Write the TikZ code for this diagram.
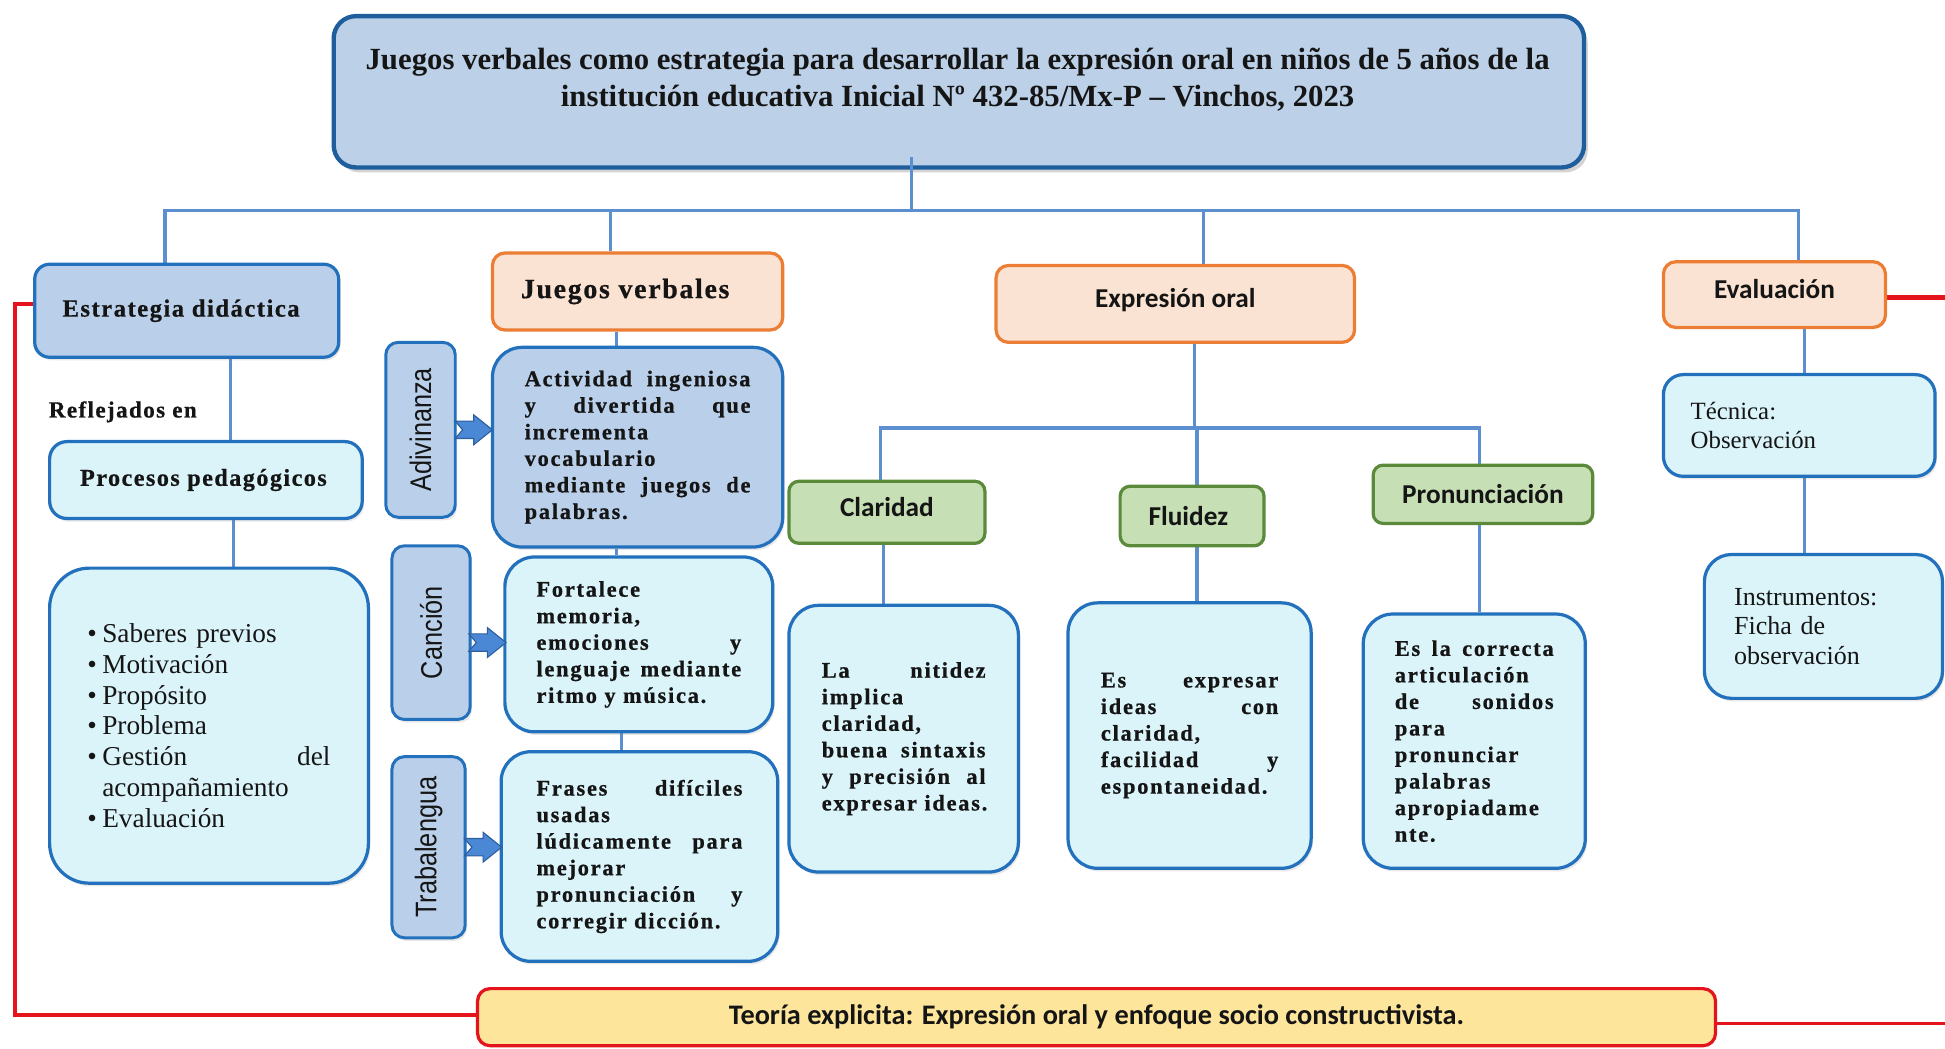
\documentclass[tikz,border=0pt]{standalone}
\usepackage{fontspec}
\usepackage{graphicx}
\setmainfont{Liberation Serif}
\newfontfamily\spacedf[LetterSpace=8, BoldFeatures={FakeBold=0.8}]{Liberation Serif}
\newfontfamily\hdrf[LetterSpace=6, BoldFeatures={FakeBold=0.6}]{Liberation Serif}
\newfontfamily\calf{Carlito}
\newfontfamily\arialf{Liberation Sans}
\usetikzlibrary{shadows,calc}
\definecolor{lineblue}{HTML}{5B8FD0}
\definecolor{bdblue}{HTML}{2370BD}
\definecolor{titleblue}{HTML}{1F5E9C}
\definecolor{titlefill}{HTML}{BCD0E8}
\definecolor{midfill}{HTML}{BAD0EA}
\definecolor{cyanfill}{HTML}{DAF4FA}
\definecolor{orbd}{HTML}{EB7D35}
\definecolor{orfill}{HTML}{FBE3D3}
\definecolor{grbd}{HTML}{5A8A3A}
\definecolor{grfill}{HTML}{C6DFB4}
\definecolor{yelfill}{HTML}{FDE59B}
\definecolor{redl}{HTML}{E3141B}
\definecolor{arrfill}{HTML}{4A88D6}
\definecolor{arrdraw}{HTML}{2D5E9E}
\definecolor{txt}{HTML}{151515}
\newcommand{\fsz}[2]{\fontsize{#1}{#2}\selectfont}
\newcommand{\jl}[1]{{\spaceskip=0pt\xspaceskip=0pt\makebox[\hsize][s]{#1}}}
\newcommand{\jw}[2]{{\spaceskip=0pt\xspaceskip=0pt\makebox[#1][s]{#2}}}
\newcommand{\blockarrow}[1]{\draw[blockarr, shift={(#1)}] (-15,-7) -- (0,-7) -- (0,-12) -- (15,0) -- (0,12) -- (0,7) -- (-15,7) -- (-9,0) -- cycle;}
\pgfdeclarelayer{bg}
\pgfsetlayers{bg,main}
\tikzset{
  conn/.style={draw=lineblue, line width=2.6pt},
  redline/.style={draw=redl, line width=3pt},
  bx/.style={rectangle, inner sep=0pt, text=txt},
  sz/.style 2 args={minimum width=#1pt, minimum height=#2pt},
  softsh/.style={drop shadow={opacity=0.18, shadow xshift=1.5pt, shadow yshift=-2.5pt}},
  bluebox/.style={bx, draw=bdblue, fill=midfill, line width=2.6pt, rounded corners=12pt, softsh},
  cyanbox/.style={bx, draw=bdblue, fill=cyanfill, line width=2.6pt, rounded corners=24pt, softsh},
  orbox/.style={bx, draw=orbd, fill=orfill, line width=2.6pt, rounded corners=10pt},
  grbox/.style={bx, draw=grbd, fill=grfill, line width=2.6pt, rounded corners=8pt},
  vbx/.style={bx, draw=bdblue, fill=midfill, line width=2.4pt, rounded corners=10pt, softsh},
  blockarr/.style={fill=arrfill, draw=arrdraw, line width=0.9pt, line join=miter},
  bodytxt/.style={font=\spacedf\bfseries\fsz{18}{21.4}, align=left},
  sanslbl/.style={font=\calf\bfseries\fsz{22}{26}},
  lift/.style={text height=16pt, text depth=10pt},
  rot/.style={rotate=90, text=txt, inner sep=0pt, font=\arialf\fsz{24}{28}},
}
\begin{document}
\begin{tikzpicture}[x=1pt, y=-1pt]
\useasboundingbox (0,0) rectangle (1568,845);
% title
\node[bx, draw=titleblue, fill=titlefill, line width=3.5pt, rounded corners=18pt, sz={1008}{122},
      drop shadow={opacity=0.35, shadow xshift=3pt, shadow yshift=-4pt}] (title) at (773,74) {};
\node[text=txt, inner sep=0pt, align=center, font=\bfseries\fsz{24.8}{30}] (titlet) at (772,64)
  {Juegos verbales como estrategia para desarrollar la expresión oral en niños de 5 años de la\\
   institución educativa Inicial Nº 432-85/Mx-P – Vinchos, 2023};
% left column
\node[bluebox, sz={245}{75}, font=\hdrf\bfseries\fsz{19.9}{22}] (estr) at (150.5,250.5) {\hspace*{-9pt}Estrategia didáctica};
\node[text=txt, inner sep=0pt, font=\hdrf\bfseries\fsz{18.6}{20}] (refl) at (99,332) {Reflejados en};
\node[cyanbox, rounded corners=14pt, sz={252}{62}, font=\hdrf\bfseries\fsz{19.5}{22}] (proc) at (166,387) {\hspace*{-4pt}Procesos pedagógicos};
\node[cyanbox, rounded corners=32pt, sz={257}{254}, text width=196pt, align=left, font=\fsz{22}{24.8}] (list) at (168.5,585)
  {\makebox[12pt][l]{\textbullet}Saberes previos\\
   \makebox[12pt][l]{\textbullet}Motivación\\
   \makebox[12pt][l]{\textbullet}Propósito\\
   \makebox[12pt][l]{\textbullet}Problema\\
   \makebox[12pt][l]{\textbullet}\jw{184pt}{Gestión del}\\
   \hspace*{12pt}acompañamiento\\
   \makebox[12pt][l]{\textbullet}Evaluación};
% juegos verbales column
\node[orbox, sz={234}{62}, font=\hdrf\bfseries\fsz{22.5}{24}] (jv) at (514,235) {\hspace*{-20pt}Juegos verbales};
\node[vbx, sz={56}{141}] (adiv) at (339,346.5) {};
\node[rot] (adivt) at (adiv) {\scalebox{0.85}[1]{Adivinanza}};
\node[bluebox, rounded corners=24pt, sz={234}{161}, bodytxt, text width=182pt] (act) at (514,360.5)
  {\jl{Actividad ingeniosa}\\ \jl{y divertida que}\\ incrementa\\ vocabulario\\ \jl{mediante juegos de}\\ palabras.};
\node[vbx, sz={63}{140}] (canc) at (347.5,510) {};
\node[rot] (canct) at (canc) {\scalebox{0.85}[1]{Canción}};
\node[cyanbox, sz={216}{141}, bodytxt, text width=165pt] (fort) at (515,519.5)
  {Fortalece\\ memoria,\\ \jl{emociones y}\\ \jl{lenguaje mediante}\\ ritmo y música.};
\node[vbx, sz={59}{146}] (trab) at (345.5,683) {};
\node[rot] (trabt) at (trab) {\scalebox{0.85}[1]{Trabalengua}};
\node[cyanbox, sz={223}{169}, bodytxt, text width=166pt] (fras) at (515.5,690.5)
  {\jl{Frases difíciles}\\ usadas\\ \jl{lúdicamente para}\\ mejorar\\ \jl{pronunciación y}\\ corregir dicción.};
\coordinate (a1) at ($(adiv.east)!0.5!(act.west |- adiv.east)$);
\coordinate (a2) at ($(canc.east)!0.5!(fort.west |- canc.east)+(0,8)$);
\coordinate (a3) at ($(trab.east)!0.5!(fras.west |- trab.east)$);
\blockarrow{a1}
\blockarrow{a2}
\blockarrow{a3}
% expresion oral column
\node[orbox, sz={289}{62}, sanslbl, lift] (eo) at (947.5,245) {Expresión oral};
\node[grbox, sz={158}{50}, sanslbl, lift] (clar) at (715,413) {Claridad};
\node[grbox, sz={116}{48}, sanslbl] (flu) at (961,416) {\hspace*{-6pt}Fluidez};
\node[grbox, sz={177}{47}, sanslbl] (pron) at (1195.5,398.5) {Pronunciación};
\node[cyanbox, sz={185}{215}, bodytxt, text width=132pt] (nit) at (728.5,595.5)
  {\jl{La nitidez}\\ implica\\ claridad,\\ \jl{buena sintaxis}\\ \jl{y precisión al}\\ expresar ideas.};
\node[cyanbox, sz={196}{214}, bodytxt, text width=143pt] (expr) at (959,593)
  {\jl{Es expresar}\\ \jl{ideas con}\\ claridad,\\ \jl{facilidad y}\\ espontaneidad.};
\node[cyanbox, sz={179}{205}, bodytxt, text width=128pt] (corr) at (1188.5,597.5)
  {\jl{Es la correcta}\\ articulación\\ \jl{de sonidos}\\ para\\ pronunciar\\ palabras\\ apropiadame\\ nte.};
% evaluacion column
\node[orbox, sz={179}{53}, sanslbl, lift] (eval) at (1430.5,237.5) {Evaluación};
\node[cyanbox, rounded corners=16pt, sz={219}{82}, text width=175pt, align=left, font=\fsz{20}{23}] (tec) at (1450.5,343)
  {Técnica:\\ Observación};
\node[cyanbox, rounded corners=22pt, sz={192}{116}, text width=144pt, align=left, font=\fsz{21}{24}] (inst) at (1470,505)
  {Instrumentos:\\ Ficha de\\ observación};
% theory
\node[bx, draw=redl, fill=yelfill, line width=2.6pt, rounded corners=10pt, sz={998}{46}, font=\calf\bfseries\fsz{22.8}{26}] (teo) at (884,820)
  {Teoría explicita: Expresión oral y enfoque socio constructivista.};
% connectors
\coordinate (bus) at (735,170);
\coordinate (b1) at (133,170);
\coordinate (b2) at (492,170);
\coordinate (b3) at (970,170);
\coordinate (b4) at (1450,170);
\coordinate (bus2) at (963,345);
\coordinate (d1) at (710,345);
\coordinate (d2) at (965,345);
\coordinate (d3) at (1193,345);
\coordinate (rl) at (12,818);
\coordinate (rr) at (1568,825);
\coordinate (re) at (1568,240);
\draw[conn] ([yshift=10pt]title.south -| bus) -- (bus);
\begin{pgfonlayer}{bg}
\draw[conn] (b1 |- estr.north) -- (b1) -- (b4) -- (b4 |- eval.north);
\draw[conn] (b2) -- (b2 |- jv.north);
\draw[conn] (b3) -- (b3 |- eo.north);
\draw[conn] ([xshift=35.5pt]estr.south) -- ([xshift=35.5pt]estr.south |- proc.north);
\draw[conn] ([xshift=22pt]proc.south) -- ([xshift=22pt]proc.south |- list.north);
\draw[conn] ([xshift=-17pt]jv.south) -- ([xshift=-17pt]jv.south |- act.north);
\draw[conn] ([xshift=-17pt]act.south) -- ([xshift=-17pt]act.south |- fort.north);
\draw[conn] ([xshift=-14pt]fort.south) -- ([xshift=-14pt]fort.south |- fras.north);
\draw[conn] ([xshift=15.5pt]eo.south) -- (bus2);
\draw[conn] (d1 |- clar.north) -- (d1) -- (d3) -- (d3 |- pron.north);
\draw[conn] (d2) -- (d2 |- flu.north);
\draw[conn] ([xshift=-3pt]clar.south) -- ([xshift=-3pt]clar.south |- nit.north);
\draw[conn] ([xshift=4pt]flu.south) -- ([xshift=4pt]flu.south |- expr.north);
\draw[conn] ([xshift=-2.5pt]pron.south) -- ([xshift=-2.5pt]pron.south |- corr.north);
\draw[conn] ([xshift=24.5pt]eval.south) -- ([xshift=24.5pt]eval.south |- tec.north);
\draw[conn] ([xshift=4.5pt]tec.south) -- ([xshift=4.5pt]tec.south |- inst.north);
\draw[redline] ([yshift=5.5pt]estr.west) -| (rl) -- (rl -| teo.west);
\draw[redline] (teo.east |- rr) -- (rr);
\draw[redline, line width=3.6pt] (eval.east |- re) -- (re);
\end{pgfonlayer}
\end{tikzpicture}
\end{document}
